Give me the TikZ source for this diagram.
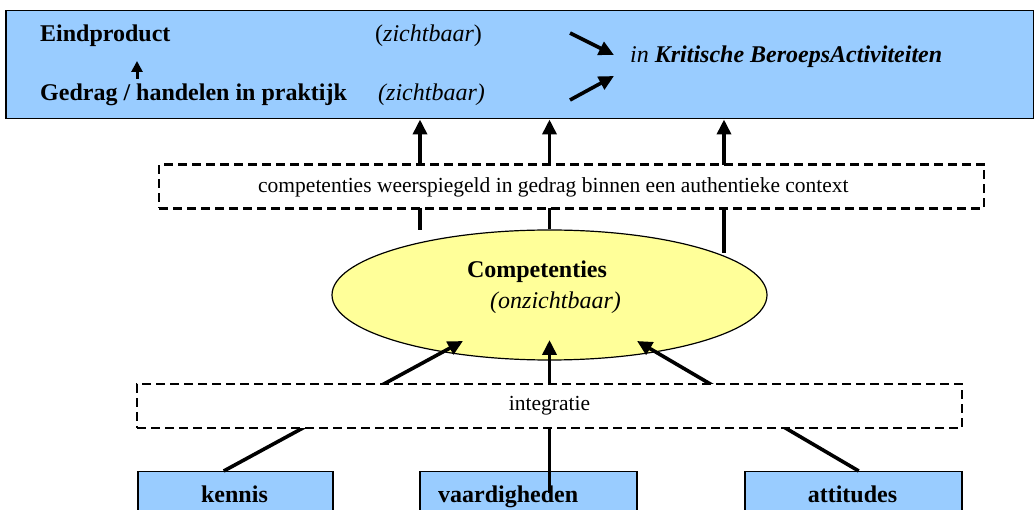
\documentclass[tikz,border=0pt]{standalone}
\usepackage{fontspec}
\setmainfont{Liberation Serif}
\usetikzlibrary{arrows.meta,shapes.geometric}
\definecolor{lichtblauw}{HTML}{99CCFF}
\definecolor{lichtgeel}{HTML}{FFFF99}
\tikzset{
  blok/.style={rectangle, draw=black, line width=1.5pt, fill=lichtblauw, inner sep=0pt, anchor=north west},
  stippel/.style={rectangle, draw=black, line width=2.6pt, dash pattern=on 9pt off 5pt, fill=white, inner sep=0pt},
  pijl/.style={line width=3.6pt, -{Triangle[length=15pt,width=14pt]}},
  kleinpijl/.style={line width=3pt, -{Triangle[length=11pt,width=11pt]}},
  groot/.style={font=\fontsize{24}{28}\selectfont, inner sep=0pt, anchor=base west},
  klein/.style={font=\fontsize{21.5}{26}\selectfont, inner sep=0pt}
}
\begin{document}
\begin{tikzpicture}[x=1pt, y=-1pt]
  \useasboundingbox (0,0) rectangle (1034,510);
  \clip (0,0) rectangle (1034,510);

  \node[blok, minimum width=1028pt, minimum height=108pt] (top) at (5,10) {};
  \node[groot, font=\fontsize{24}{28}\selectfont\bfseries] (eind) at (40,42) {Eindproduct};
  \node[groot] (zicht1) at (375,42) {(\textit{zichtbaar})};
  \node[groot, font=\fontsize{24}{28}\selectfont\bfseries] (gedrag) at (40,101) {Gedrag / handelen in praktijk};
  \node[groot, font=\fontsize{24}{28}\selectfont\itshape] (zicht2) at (378,101) {(zichtbaar)};
  \node[groot, font=\fontsize{24}{28}\selectfont\itshape] (kba) at (630,63) {in \textbf{Kritische BeroepsActiviteiten}};

  \coordinate (g1) at (137,79);
  \coordinate (g2) at (137,61);
  \draw[kleinpijl] (g1) -- (g2);
  \coordinate (p1) at (570,33);
  \coordinate (p2) at (614,55);
  \coordinate (q1) at (570,100);
  \coordinate (q2) at (614,76);
  \draw[pijl] (p1) -- (p2);
  \draw[pijl] (q1) -- (q2);

  \node[ellipse, draw=black, line width=1.2pt, fill=lichtgeel, minimum width=435pt, minimum height=130pt, inner sep=0pt] (comp) at (549.5,295) {};
  \node[groot, anchor=base, font=\fontsize{24}{28}\selectfont\bfseries] (comptekst) at (537,278) {Competenties};
  \node[groot, font=\fontsize{24}{28}\selectfont\itshape] (onzicht) at (490,309) {(onzichtbaar)};

  \node[blok, minimum width=195pt, minimum height=60pt] (kennis) at (137,471) {};
  \node[blok, minimum width=217pt, minimum height=60pt] (vaard) at (419,471) {};
  \node[blok, minimum width=217pt, minimum height=60pt] (att) at (744,471) {};
  \node[groot, anchor=base, font=\fontsize{24}{28}\selectfont\bfseries] (kennistekst) at (234.5,503) {kennis};
  \node[groot, font=\fontsize{24}{28}\selectfont\bfseries] (vaardtekst) at (438,503) {vaardigheden};
  \node[groot, anchor=base, font=\fontsize{24}{28}\selectfont\bfseries] (atttekst) at (852.5,503) {attitudes};

  \coordinate (a1) at (420,230);
  \coordinate (a3) at (724,253);
  \draw[pijl] (a1) -- (a1 |- top.south);
  \draw[pijl] (comp.north) -- (comp.north |- top.south);
  \draw[pijl] (a3) -- (a3 |- top.south);

  \coordinate (t1) at (463,341);
  \coordinate (t2) at (549.5,340);
  \coordinate (t3) at (637,341);
  \coordinate (v1) at (549.5,493);
  \draw[pijl] ([xshift=-11.5pt]kennis.north) -- (t1);
  \draw[pijl] (v1) -- (t2);
  \draw[pijl] ([xshift=5.5pt]att.north) -- (t3);

  \node[stippel, minimum width=825pt, minimum height=43.5pt] (ctx) at (571.5,186.5) {};
  \node[klein, anchor=base west] (ctxtekst) at (258,193) {competenties weerspiegeld in gedrag binnen een authentieke context};
  \node[stippel, minimum width=825pt, minimum height=44pt, klein] (integr) at (549.5,406) {integratie};

\end{tikzpicture}
\end{document}
